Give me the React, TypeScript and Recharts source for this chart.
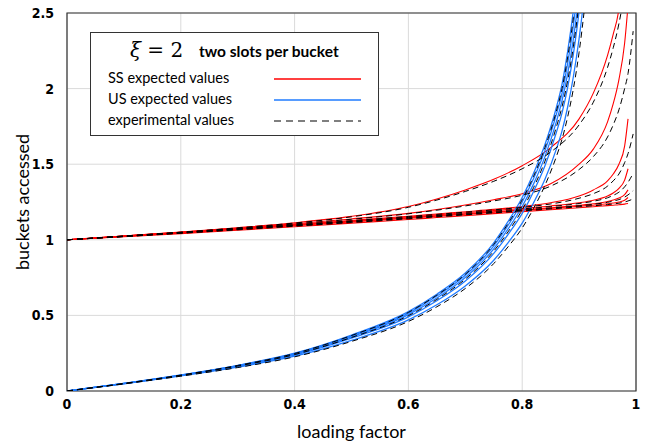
import { LineChart, Line, XAxis, YAxis, CartesianGrid, ReferenceArea } from 'recharts';

// loading factor samples for the SS (red) curves and their experiments
const ssX = [0, 0.1, 0.2, 0.3, 0.4, 0.5, 0.6, 0.65, 0.7, 0.75, 0.8, 0.85, 0.9, 0.925, 0.95, 0.96, 0.97, 0.98, 0.986];
const ssExpX = [0, 0.1, 0.2, 0.3, 0.4, 0.5, 0.6, 0.65, 0.7, 0.75, 0.8, 0.85, 0.9, 0.925, 0.95, 0.96, 0.97, 0.98, 0.986, 0.995];

const ss1 = [1, 1.025, 1.051, 1.08, 1.113, 1.155, 1.22, 1.27, 1.33, 1.4, 1.49, 1.61, 1.8, 1.97, 2.22, 2.36, 2.53, 2.95, 3.3];
const ss2 = [1, 1.025, 1.05, 1.077, 1.106, 1.138, 1.175, 1.2, 1.23, 1.265, 1.305, 1.37, 1.5, 1.6, 1.78, 1.9, 2.06, 2.3, 2.55];
const ss3 = [1, 1.024, 1.049, 1.075, 1.101, 1.128, 1.156, 1.171, 1.186, 1.201, 1.22, 1.245, 1.29, 1.33, 1.39, 1.435, 1.5, 1.62, 1.8];
const ss4 = [1, 1.024, 1.048, 1.073, 1.099, 1.125, 1.151, 1.165, 1.179, 1.193, 1.208, 1.224, 1.245, 1.262, 1.29, 1.31, 1.34, 1.395, 1.47];
const ss5 = [1, 1.023, 1.047, 1.071, 1.096, 1.121, 1.146, 1.159, 1.172, 1.185, 1.198, 1.212, 1.228, 1.238, 1.253, 1.263, 1.276, 1.298, 1.33];
const ss6 = [1, 1.022, 1.045, 1.069, 1.093, 1.118, 1.143, 1.156, 1.169, 1.182, 1.195, 1.208, 1.222, 1.229, 1.238, 1.243, 1.25, 1.262, 1.28];
const ss7 = [1, 1.02, 1.041, 1.063, 1.086, 1.11, 1.134, 1.147, 1.16, 1.173, 1.186, 1.199, 1.212, 1.219, 1.226, 1.229, 1.232, 1.236, 1.24];

const ssE1 = [1, 1.025, 1.05, 1.079, 1.111, 1.152, 1.215, 1.263, 1.32, 1.387, 1.47, 1.58, 1.76, 1.91, 2.14, 2.27, 2.43, 2.65, 2.85, 3.2];
const ssE2 = [1, 1.025, 1.05, 1.076, 1.105, 1.136, 1.172, 1.196, 1.224, 1.257, 1.295, 1.355, 1.465, 1.55, 1.68, 1.76, 1.86, 2.0, 2.1, 2.38];
const ssE3 = [1, 1.023, 1.047, 1.073, 1.099, 1.126, 1.154, 1.168, 1.183, 1.198, 1.215, 1.237, 1.275, 1.305, 1.355, 1.39, 1.435, 1.51, 1.57, 1.7];
const ssE4 = [1, 1.023, 1.047, 1.071, 1.096, 1.122, 1.148, 1.161, 1.175, 1.189, 1.204, 1.22, 1.24, 1.255, 1.278, 1.294, 1.315, 1.35, 1.38, 1.44];
const ssE5 = [1, 1.022, 1.045, 1.069, 1.093, 1.118, 1.143, 1.156, 1.169, 1.182, 1.196, 1.21, 1.225, 1.235, 1.248, 1.256, 1.266, 1.282, 1.297, 1.325];
const ssE6 = [1, 1.021, 1.043, 1.066, 1.09, 1.114, 1.139, 1.152, 1.165, 1.178, 1.191, 1.204, 1.218, 1.225, 1.233, 1.237, 1.242, 1.25, 1.257, 1.27];

// loading factor samples for the US (blue) curves
const usX = [0, 0.1, 0.2, 0.3, 0.4, 0.5, 0.6, 0.65, 0.7, 0.75, 0.775, 0.8, 0.82, 0.84, 0.86, 0.87, 0.88, 0.89, 0.9, 0.91, 0.92];

const us1 = [0, 0.05, 0.106, 0.17, 0.25, 0.37, 0.525, 0.64, 0.78, 0.98, 1.12, 1.28, 1.44, 1.63, 1.875, 2.03, 2.25, 2.52, 2.87, 3.3, 3.8];
const us2 = [0, 0.05, 0.105, 0.168, 0.247, 0.364, 0.515, 0.628, 0.765, 0.96, 1.095, 1.25, 1.405, 1.59, 1.83, 1.97, 2.17, 2.42, 2.75, 3.15, 3.6];
const us3 = [0, 0.05, 0.104, 0.166, 0.244, 0.358, 0.505, 0.615, 0.75, 0.94, 1.07, 1.22, 1.37, 1.55, 1.78, 1.92, 2.1, 2.33, 2.63, 3.0, 3.45];
const us4 = [0, 0.049, 0.102, 0.163, 0.238, 0.35, 0.49, 0.597, 0.728, 0.91, 1.035, 1.175, 1.32, 1.49, 1.71, 1.84, 2.01, 2.23, 2.51, 2.85, 3.25];
const us5 = [0, 0.048, 0.1, 0.158, 0.23, 0.335, 0.47, 0.57, 0.695, 0.865, 0.98, 1.11, 1.245, 1.4, 1.6, 1.72, 1.88, 2.08, 2.33, 2.65, 3.05];

const usE1 = [0, 0.05, 0.105, 0.169, 0.248, 0.367, 0.52, 0.634, 0.772, 0.97, 1.107, 1.265, 1.42, 1.61, 1.85, 2.0, 2.21, 2.47, 2.81, 3.22, 3.7];
const usE2 = [0, 0.049, 0.103, 0.165, 0.241, 0.354, 0.498, 0.606, 0.74, 0.925, 1.052, 1.198, 1.345, 1.52, 1.745, 1.88, 2.055, 2.28, 2.57, 2.93, 3.35];
const usE3 = [0, 0.047, 0.098, 0.155, 0.226, 0.328, 0.46, 0.557, 0.678, 0.843, 0.953, 1.078, 1.208, 1.36, 1.55, 1.665, 1.815, 2.0, 2.24, 2.55, 2.93];

const xTicks = [0, 0.2, 0.4, 0.6, 0.8, 1];
const yTicks = [0, 0.5, 1, 1.5, 2, 2.5];

const pts = (xs: number[], ys: number[]) => xs.map((x, i) => ({ x, y: ys[i] }));

const RED = '#ff0000';
const BLUE = '#1f7bff';

const ssCurves = [ss1, ss2, ss3, ss4, ss5, ss6, ss7];
const ssExp = [ssE1, ssE2, ssE3, ssE4, ssE5, ssE6];
const usCurves = [us1, us2, us3, us4, us5];
const usExp = [usE1, usE2, usE3];

const tickStyle = {
  fontFamily: '"Liberation Sans Narrow", "DejaVu Sans Condensed", "DejaVu Sans", sans-serif',
  fontWeight: 700,
  fontSize: 14,
  fill: '#000',
};

const Legend = () => (
  <div
    style={{
      position: 'absolute',
      left: 90,
      top: 32,
      width: 289,
      height: 104,
      border: '1px solid #333',
      background: '#fff',
      fontFamily: 'Lato, "Open Sans", sans-serif',
      color: '#000',
      boxSizing: 'border-box',
    }}
  >
    <div style={{ position: 'absolute', left: 39, top: 5, fontSize: 20, fontFamily: '"DejaVu Serif", serif', whiteSpace: 'nowrap' }}>
      <span style={{ fontStyle: 'italic' }}>ξ</span> = 2
    </div>
    <div style={{ position: 'absolute', left: 108, top: 9, fontSize: 15.5, fontWeight: 700, whiteSpace: 'nowrap' }}>
      two slots per bucket
    </div>
    {[
      { label: 'SS expected values', top: 36, color: RED, dash: undefined },
      { label: 'US expected values', top: 57, color: BLUE, dash: undefined },
      { label: 'experimental values', top: 78, color: '#000', dash: '7 5' },
    ].map((e) => (
      <div key={e.label}>
        <div style={{ position: 'absolute', left: 17, top: e.top, fontSize: 14.5, whiteSpace: 'nowrap' }}>{e.label}</div>
        <svg style={{ position: 'absolute', left: 183, top: e.top + 3 }} width={88} height={14}>
          <line x1={0} y1={7} x2={87} y2={7} stroke={e.color} strokeWidth={e.dash ? 1.2 : 1.6} strokeDasharray={e.dash} />
        </svg>
      </div>
    ))}
  </div>
);

export default function App() {
  return (
    <div style={{ position: 'absolute', left: 0, top: 0, width: 652, height: 443, background: '#fff' }}>
      <LineChart width={652} height={443} margin={{ top: 13, right: 16, bottom: 0, left: 0 }}>
        <CartesianGrid stroke="#dadada" strokeWidth={1} />
        <XAxis
          type="number"
          dataKey="x"
          domain={[0, 1]}
          ticks={xTicks}
          tickFormatter={(v: number) => String(v)}
          tickLine={false}
          axisLine={false}
          tickSize={0}
          tickMargin={8}
          height={52}
          tick={tickStyle}
          allowDuplicatedCategory={false}
          label={{ value: 'loading factor', position: 'insideBottom', offset: 5, style: { fontFamily: 'Lato, "Open Sans", sans-serif', fontSize: 18, fill: '#000' } }}
        />
        <YAxis
          type="number"
          dataKey="y"
          domain={[0, 2.5]}
          ticks={yTicks}
          allowDataOverflow
          tickLine={false}
          axisLine={false}
          tickSize={0}
          tickMargin={13}
          width={67}
          tick={tickStyle}
          label={{ value: 'buckets accessed', angle: -90, position: 'insideLeft', offset: 23, style: { textAnchor: 'middle', fontFamily: 'Lato, "Open Sans", sans-serif', fontSize: 18, fill: '#000' } }}
        />
        {ssCurves.map((ys, i) => (
          <Line key={`ss${i}`} data={pts(ssX, ys)} dataKey="y" type="monotone" stroke={RED} strokeWidth={1.1} dot={false} activeDot={false} isAnimationActive={false} />
        ))}
        {usCurves.map((ys, i) => (
          <Line key={`us${i}`} data={pts(usX, ys)} dataKey="y" type="monotone" stroke={BLUE} strokeWidth={1.3} dot={false} activeDot={false} isAnimationActive={false} />
        ))}
        {ssExp.map((ys, i) => (
          <Line key={`sse${i}`} data={pts(ssExpX, ys)} dataKey="y" type="monotone" stroke="#000" strokeWidth={1} strokeDasharray="6 4" dot={false} activeDot={false} isAnimationActive={false} />
        ))}
        {usExp.map((ys, i) => (
          <Line key={`use${i}`} data={pts(usX, ys)} dataKey="y" type="monotone" stroke="#000" strokeWidth={1} strokeDasharray="6 4" dot={false} activeDot={false} isAnimationActive={false} />
        ))}
        <ReferenceArea x1={0} x2={1} y1={0} y2={2.5} fill="none" stroke="#333" strokeWidth={1.2} ifOverflow="visible" />
      </LineChart>
      <Legend />
    </div>
  );
}
